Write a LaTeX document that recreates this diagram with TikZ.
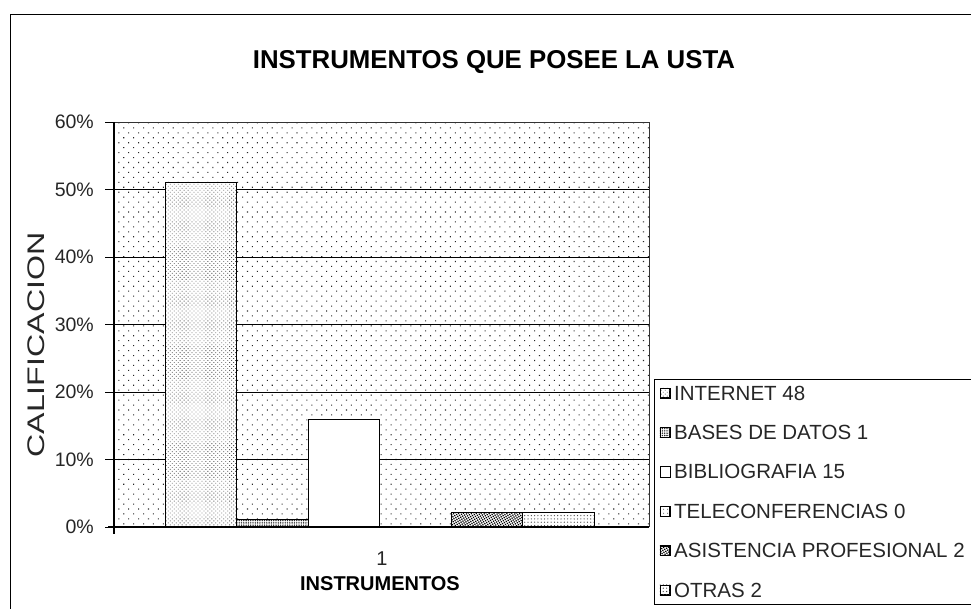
\documentclass[tikz,border=0pt]{standalone}
\usepackage{fontspec}
\setmainfont{Liberation Sans}
\usetikzlibrary{patterns.meta}
\tikzset{
  frameline/.style={draw=black, line width=0.8pt},
  gridline/.style={draw=black, line width=0.9pt},
  axisline/.style={draw=black, line width=1.1pt},
  bgdots/.style={pattern={Dots[radius=0.75pt, distance=7pt, angle=45]}, pattern color=black!85},
  pinternet/.style={pattern={Dots[radius=0.6pt, distance=2.8pt, angle=45]}, pattern color=black!65},
  pbases/.style={pattern={Dots[radius=0.8pt, distance=2.3pt]}, pattern color=black!85},
  pbiblio/.style={fill=white},
  ptele/.style={pattern={Dots[radius=0.6pt, distance=4pt]}, pattern color=black!70},
  pasist/.style={pattern={Dots[radius=0.9pt, distance=2.2pt, angle=30]}, pattern color=black},
  potras/.style={pattern={Dots[radius=0.65pt, distance=3.3pt]}, pattern color=black!70},
  bar/.style={draw=black, line width=0.9pt},
  ylab/.style={anchor=east, font=\fontsize{19.5}{19.5}\selectfont, text=black!85, inner sep=0pt},
  legtext/.style={anchor=west, font=\fontsize{20.5}{20.5}\selectfont, text=black!85, inner sep=0pt},
  legmark/.style={draw=black, line width=0.7pt, minimum size=9.5pt, inner sep=0pt},
}
\newcommand{\mybar}[4]{%
  \fill[white] (#1,527) rectangle (#2,{527-6.75*#3});
  \fill[#4] (#1,527) rectangle (#2,{527-6.75*#3});
  \draw[bar] (#1,527) rectangle (#2,{527-6.75*#3});
}
\begin{document}
\begin{tikzpicture}[x=1pt,y=-1pt]
\useasboundingbox (0,0) rectangle (971,608);
\clip (0,0) rectangle (971,608);
% outer frame
\draw[frameline] (10,14) rectangle (1000,640);
% title
\node[font=\fontsize{25.8}{25.8}\bfseries\selectfont] (title) at (494,62) {INSTRUMENTOS QUE POSEE LA USTA};
% plot background
\fill[white] (114,122) rectangle (649,527);
\fill[bgdots] (114,122) rectangle (649,527);
\draw[black!80, line width=0.7pt] (114,122) -- (649,122) -- (649,527);
% gridlines, ticks and labels
\foreach \p in {10,20,30,40,50} {
  \draw[gridline] (114,{527-6.75*\p}) -- (649,{527-6.75*\p});
}
\foreach \p in {0,10,...,60} {
  \draw[black, line width=0.8pt] (105,{527-6.75*\p}) -- (114,{527-6.75*\p});
  \node[ylab] (yl\p) at (94,{527-6.75*\p}) {\p\%};
}
% bars
\mybar{165}{236.5}{51.06}{pinternet}
\mybar{236.5}{308}{1.06}{pbases}
\mybar{308}{379.5}{15.96}{pbiblio}
\mybar{451}{522.5}{2.13}{pasist}
\mybar{522.5}{594}{2.13}{potras}
% axes
\draw[axisline] (114,122) -- (114,534);
\draw[axisline] (108,527) -- (649,527);
% axis labels
\node[font=\fontsize{20}{20}\selectfont, text=black!85] (cat) at (382,559) {1};
\node[font=\fontsize{20}{20}\bfseries\selectfont] (xtitle) at (380,584) {INSTRUMENTOS};
\node[rotate=90, font=\fontsize{24}{24}\selectfont, text=black!85] (ytitle) at (36,345) {\scalebox{1.34}[1]{CALIFICACION}};
% legend
\draw[frameline] (654,379) rectangle (1000,604);
\foreach \t/\s [count=\i from 0] in {INTERNET 48/pinternet, BASES DE DATOS 1/pbases, BIBLIOGRAFIA 15/pbiblio, TELECONFERENCIAS 0/ptele, ASISTENCIA PROFESIONAL 2/pasist, OTRAS 2/potras} {
  \node[legmark, fill=white] (m\i) at (665,{393+39.4*\i}) {};
  \fill[\s] (m\i.south west) rectangle (m\i.north east);
  \draw[black, line width=0.7pt] (m\i.south west) rectangle (m\i.north east);
  \node[legtext] (l\i) at (674,{393+39.4*\i}) {\t};
}
\end{tikzpicture}
\end{document}
